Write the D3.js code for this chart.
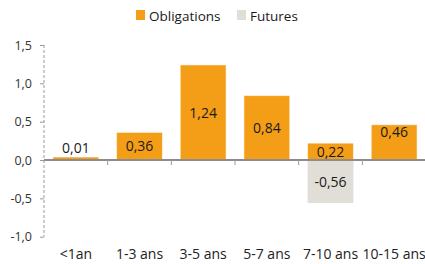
<!DOCTYPE html>
<html>
<head>
<meta charset="utf-8">
<script src="https://cdn.jsdelivr.net/npm/d3@7"></script>
<style>
  html, body { margin: 0; padding: 0; background: #fff; }
  svg { display: block; font-family: "Open Sans", "Noto Sans", sans-serif; }
</style>
</head>
<body>
<div id="chart"></div>
<script>
// Obligations vs futures by maturity bucket

const categories = ["<1an", "1-3 ans", "3-5 ans", "5-7 ans", "7-10 ans", "10-15 ans"];
const obligations = [0.01, 0.36, 1.24, 0.84, 0.22, 0.46];
const futures = [0, 0, 0, 0, -0.56, 0];
const yTicks = [-1.0, -0.5, 0.0, 0.5, 1.0, 1.5];
const seriesNames = ["Obligations", "Futures"];

// label placement as drawn in the original (Excel-style)
const oblLabelMode = ["above", "center", "center", "center", "center", "end"];

const W = 425, H = 264;
const colors = { Obligations: "#F49D17", Futures: "#E0DED7" };
const fmt = v => v.toFixed(2).replace(".", ",");
const fmtTick = v => v.toFixed(1).replace(".", ",");

const svg = d3.select("#chart").append("svg")
  .attr("width", W).attr("height", H).attr("viewBox", `0 0 ${W} ${H}`);

const x = d3.scaleBand().domain(categories).range([44, 426])
  .paddingInner(0.28).paddingOuter(0.14);
const y = d3.scaleLinear().domain([-1, 1.5]).range([236.7, 45]);

// y axis: dashed line + small ticks on the left
const gY = svg.append("g").attr("transform", "translate(44,0)")
  .call(d3.axisLeft(y).tickValues(yTicks).tickFormat(fmtTick).tickSize(4).tickPadding(8));
gY.select(".domain").remove();
gY.append("line").attr("y1", y(1.5)).attr("y2", y(-1))
  .attr("stroke", "#9a9a9a").attr("stroke-dasharray", "3 2");
gY.selectAll(".tick line").attr("stroke", "#9a9a9a");
gY.selectAll(".tick text").attr("fill", "#333").attr("font-size", 12.5)
  .attr("font-family", "'Open Sans', sans-serif");

// bars
const gBars = svg.append("g");
gBars.selectAll("rect.fut").data(futures.map((v, i) => ({ c: categories[i], v })).filter(d => d.v !== 0))
  .join("rect").attr("class", "fut")
  .attr("x", d => x(d.c)).attr("width", x.bandwidth())
  .attr("y", d => y(Math.max(0, d.v))).attr("height", d => Math.abs(y(d.v) - y(0)))
  .attr("fill", colors.Futures);

// tiny values still get a visible sliver above the zero line
const minH = 3;
gBars.selectAll("rect.obl").data(obligations.map((v, i) => ({ c: categories[i], v, i })))
  .join("rect").attr("class", "obl")
  .attr("x", d => x(d.c)).attr("width", x.bandwidth())
  .attr("y", d => Math.min(y(Math.max(0, d.v)), y(0) - minH))
  .attr("height", d => Math.max(minH, Math.abs(y(d.v) - y(0))))
  .attr("fill", colors.Obligations)
  .attr("stroke", "rgba(255,255,255,0.55)").attr("stroke-width", 1);

// zero line + category separators
const gX = svg.append("g").attr("transform", `translate(0,${y(0)})`);
gX.append("line").attr("x1", 44).attr("x2", W).attr("stroke", "#8c8c8c").attr("stroke-width", 2);
const step = x.step();
gX.selectAll("line.sep").data(categories.slice(1))
  .join("line").attr("class", "sep")
  .attr("x1", d => x(d) - step * x.paddingInner() / 2).attr("x2", d => x(d) - step * x.paddingInner() / 2)
  .attr("y1", 0).attr("y2", 5).attr("stroke", "#9a9a9a");

// category labels
svg.append("g").selectAll("text").data(categories).join("text")
  .attr("x", d => x(d) + x.bandwidth() / 2).attr("y", 259)
  .attr("text-anchor", "middle").attr("font-size", 14).attr("fill", "#222")
  .text(d => d);

// value labels
const gLab = svg.append("g").attr("font-size", 14).attr("fill", "#1a1a1a").attr("text-anchor", "middle");
obligations.forEach((v, i) => {
  const cx = x(categories[i]) + x.bandwidth() / 2;
  const top = y(v), mid = (y(v) + y(0)) / 2;
  const mode = oblLabelMode[i];
  const ty = mode === "above" ? top - 6 : mode === "end" ? top + 7 : mid;
  gLab.append("text").attr("x", cx).attr("y", ty).attr("dy", mode === "above" ? 0 : "0.36em").text(fmt(v));
});
futures.forEach((v, i) => {
  if (v === 0) return;
  const cx = x(categories[i]) + x.bandwidth() / 2;
  gLab.append("text").attr("x", cx).attr("y", (y(v) + y(0)) / 2).attr("dy", "0.36em").text(fmt(v));
});

// legend
const legendX = [136, 237];
const gLeg = svg.append("g");
seriesNames.forEach((s, i) => {
  gLeg.append("rect").attr("x", legendX[i]).attr("y", 10).attr("width", 9).attr("height", 10)
    .attr("fill", colors[s]);
  gLeg.append("text").attr("x", legendX[i] + 13).attr("y", 20.5)
    .attr("font-size", 13.5).attr("fill", "#1a1a1a").text(s);
});
</script>
</body>
</html>
